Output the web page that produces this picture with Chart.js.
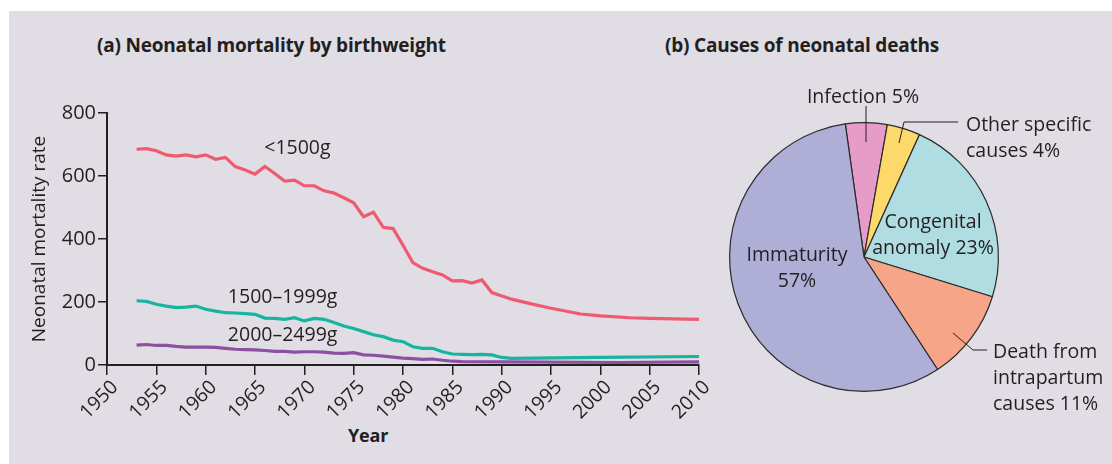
<!DOCTYPE html>
<html>
<head>
<meta charset="utf-8">
<script src="https://cdn.jsdelivr.net/npm/chart.js@4.4.1/dist/chart.umd.min.js"></script>
<style>
  html, body { margin: 0; padding: 0; background: #ffffff; }
  #panel { position: absolute; left: 9px; top: 11px; width: 1103px; height: 453px; background: #e0dde4; }
  .titulo { position: absolute; font-family: "Open Sans", sans-serif; font-weight: bold; font-size: 19px; color: #231f20; white-space: nowrap; letter-spacing: -0.2px; }
  #lineWrap { position: absolute; left: 0; top: 0; width: 720px; height: 464px; }
  #pieWrap { position: absolute; left: 720px; top: 0; width: 392px; height: 464px; }
</style>
</head>
<body>
<div id="panel"></div>
<div class="titulo" style="left:97px; top:32px;">(a) Neonatal mortality by birthweight</div>
<div class="titulo" style="left:665px; top:32px;">(b) Causes of neonatal deaths</div>
<div class="titulo" style="left:348px; top:423px; font-size:18px;">Year</div>
<div id="lineWrap"><canvas id="graficoLineas"></canvas></div>
<div id="pieWrap"><canvas id="graficoCausas"></canvas></div>
<script>
// Mortalidad neonatal por peso al nacer (por 1000)
const anosBajo = [1953, 1954, 1955, 1956, 1957, 1958, 1959, 1960, 1961, 1962, 1963, 1964, 1965, 1966, 1967, 1968, 1969, 1970, 1971, 1972, 1973, 1974, 1975, 1976, 1977, 1978, 1979, 1980, 1981, 1982, 1983, 1984, 1985, 1986, 1987, 1988, 1989, 1991, 1993, 1995, 1998, 2000, 2003, 2005, 2010];
const tasaBajo = [685, 687, 680, 667, 663, 667, 661, 667, 653, 659, 630, 619, 606, 630, 608, 584, 587, 569, 569, 553, 546, 531, 515, 471, 485, 437, 433, 380, 325, 307, 296, 286, 267, 268, 260, 270, 230, 209, 194, 180, 162, 156, 150, 148, 145];

const anosMedio = [1953, 1954, 1955, 1956, 1957, 1958, 1959, 1960, 1961, 1962, 1963, 1964, 1965, 1966, 1967, 1968, 1969, 1970, 1971, 1972, 1973, 1974, 1975, 1976, 1977, 1978, 1979, 1980, 1981, 1982, 1983, 1984, 1985, 1986, 1987, 1988, 1989, 1990, 1991, 2000, 2010];
const tasaMedio = [204, 202, 193, 187, 182, 184, 187, 177, 171, 166, 165, 163, 161, 149, 148, 145, 150, 140, 148, 145, 135, 124, 116, 106, 96, 90, 79, 74, 58, 53, 53, 42, 35, 34, 33, 34, 32, 24, 21, 24, 27];

const anosAlto = [1953, 1954, 1955, 1956, 1957, 1958, 1959, 1960, 1961, 1962, 1963, 1964, 1965, 1966, 1967, 1968, 1969, 1970, 1971, 1972, 1973, 1974, 1975, 1976, 1977, 1978, 1979, 1980, 1981, 1982, 1983, 1984, 1985, 1986, 1990, 2002, 2010];
const tasaAlto = [63, 65, 62, 62, 59, 57, 57, 57, 56, 53, 50, 49, 48, 46, 43, 43, 41, 42, 42, 41, 38, 37, 39, 32, 31, 28, 25, 22, 20, 18, 19, 15, 12, 11, 10, 8, 10];

const ticksY = [0, 200, 400, 600, 800];

// Causas de muertes neonatales (%)
const causas = ['Infection', 'Other specific causes', 'Congenital anomaly', 'Death from intrapartum causes', 'Immaturity'];
const porcentajes = [5, 4, 23, 11, 57];

const colorTexto = '#231f20';
const fuente = '"Open Sans", sans-serif';

function puntos(xs, ys) {
    return xs.map((x, i) => ({ x: x, y: ys[i] }));
}

// Etiquetas de cada serie, colocadas en coordenadas de datos
const etiquetasSeries = {
    id: 'etiquetasSeries',
    afterDatasetsDraw(chart) {
        const ctx = chart.ctx;
        const sx = chart.scales.x, sy = chart.scales.y;
        const textos = [
            { t: '<1500g', x: 1969.3, y: 689 },
            { t: '1500\u20131999g', x: 1967.8, y: 216 },
            { t: '2000\u20132499g', x: 1967.8, y: 95 }
        ];
        ctx.save();
        ctx.font = '19.5px ' + fuente;
        ctx.fillStyle = colorTexto;
        ctx.textAlign = 'center';
        ctx.textBaseline = 'middle';
        textos.forEach(e => ctx.fillText(e.t, sx.getPixelForValue(e.x), sy.getPixelForValue(e.y)));
        ctx.restore();
    }
};

new Chart(document.getElementById('graficoLineas').getContext('2d'), {
    type: 'line',
    data: {
        datasets: [
            { label: '<1500g', data: puntos(anosBajo, tasaBajo), borderColor: '#ef5a6f' },
            { label: '1500-1999g', data: puntos(anosMedio, tasaMedio), borderColor: '#17b4a0' },
            { label: '2000-2499g', data: puntos(anosAlto, tasaAlto), borderColor: '#8d4f9f' }
        ]
    },
    options: {
        responsive: true,
        maintainAspectRatio: false,
        animation: false,
        events: [],
        datasets: { line: { borderWidth: 3.2, pointRadius: 0, tension: 0, fill: false } },
        layout: { padding: { top: 113, left: 0, right: 21, bottom: 0 } },
        plugins: { legend: { display: false }, tooltip: { enabled: false } },
        scales: {
            x: {
                type: 'linear',
                min: 1950,
                max: 2010,
                afterFit: s => { s.height = 99; },
                border: { display: true, color: colorTexto, width: 2 },
                grid: { drawOnChartArea: false, drawTicks: true, tickLength: 10, color: colorTexto, lineWidth: 1.5 },
                ticks: {
                    stepSize: 5,
                    minRotation: 45,
                    maxRotation: 45,
                    padding: 1,
                    labelOffset: 8,
                    color: colorTexto,
                    font: { family: fuente, size: 19.5 },
                    callback: v => String(v)
                }
            },
            y: {
                min: 0,
                max: 800,
                afterFit: s => { s.width = 107; },
                afterBuildTicks: s => { s.ticks = ticksY.map(v => ({ value: v })); },
                border: { display: true, color: colorTexto, width: 2 },
                grid: { drawOnChartArea: false, drawTicks: true, tickLength: 9, color: colorTexto, lineWidth: 1.5 },
                ticks: { padding: 2, color: colorTexto, font: { family: fuente, size: 20 } },
                title: {
                    display: true,
                    text: 'Neonatal mortality rate',
                    color: colorTexto,
                    font: { family: fuente, size: 19 },
                    padding: { top: 28, bottom: 0 }
                }
            }
        }
    },
    plugins: [etiquetasSeries]
});

// Rótulos del gráfico de tarta, relativos al centro del círculo
const rotulosTarta = {
    id: 'rotulosTarta',
    afterDatasetsDraw(chart) {
        const arco = chart.getDatasetMeta(0).data[0];
        const cx = arco.x, cy = arco.y;
        const ctx = chart.ctx;
        const textos = [
            { l: ['Infection 5%'], x: -1, y: -160, a: 'center' },
            { l: ['Other specific', 'causes 4%'], x: 102, y: -132, a: 'left' },
            { l: ['Congenital', 'anomaly 23%'], x: 69, y: -35, a: 'center' },
            { l: ['Immaturity', '57%'], x: -67, y: -2, a: 'center' },
            { l: ['Death from', 'intrapartum', 'causes 11%'], x: 129, y: 95, a: 'left' }
        ];
        const guias = [
            [[2, -151], [2, -115]],
            [[35, -114], [40, -135], [94, -135]],
            [[89, 76], [109, 93], [123, 93]]
        ];
        ctx.save();
        ctx.strokeStyle = colorTexto;
        ctx.lineWidth = 1;
        guias.forEach(g => {
            ctx.beginPath();
            g.forEach((p, i) => i ? ctx.lineTo(cx + p[0], cy + p[1]) : ctx.moveTo(cx + p[0], cy + p[1]));
            ctx.stroke();
        });
        ctx.font = '19.5px ' + fuente;
        ctx.fillStyle = colorTexto;
        ctx.textBaseline = 'middle';
        textos.forEach(e => {
            ctx.textAlign = e.a;
            e.l.forEach((linea, i) => ctx.fillText(linea, cx + e.x, cy + e.y + i * 26));
        });
        ctx.restore();
    }
};

new Chart(document.getElementById('graficoCausas').getContext('2d'), {
    type: 'pie',
    data: {
        labels: causas,
        datasets: [{
            data: porcentajes,
            backgroundColor: ['#e79bc8', '#fdd96c', '#afdde2', '#f6a589', '#aeaed7'],
            borderColor: '#2b2b2b',
            borderWidth: 1.2
        }]
    },
    options: {
        responsive: true,
        maintainAspectRatio: false,
        animation: false,
        events: [],
        rotation: -8,
        layout: { padding: { left: 9, top: 122, right: 113, bottom: 72 } },
        plugins: { legend: { display: false }, tooltip: { enabled: false } }
    },
    plugins: [rotulosTarta]
});
</script>
</body>
</html>
